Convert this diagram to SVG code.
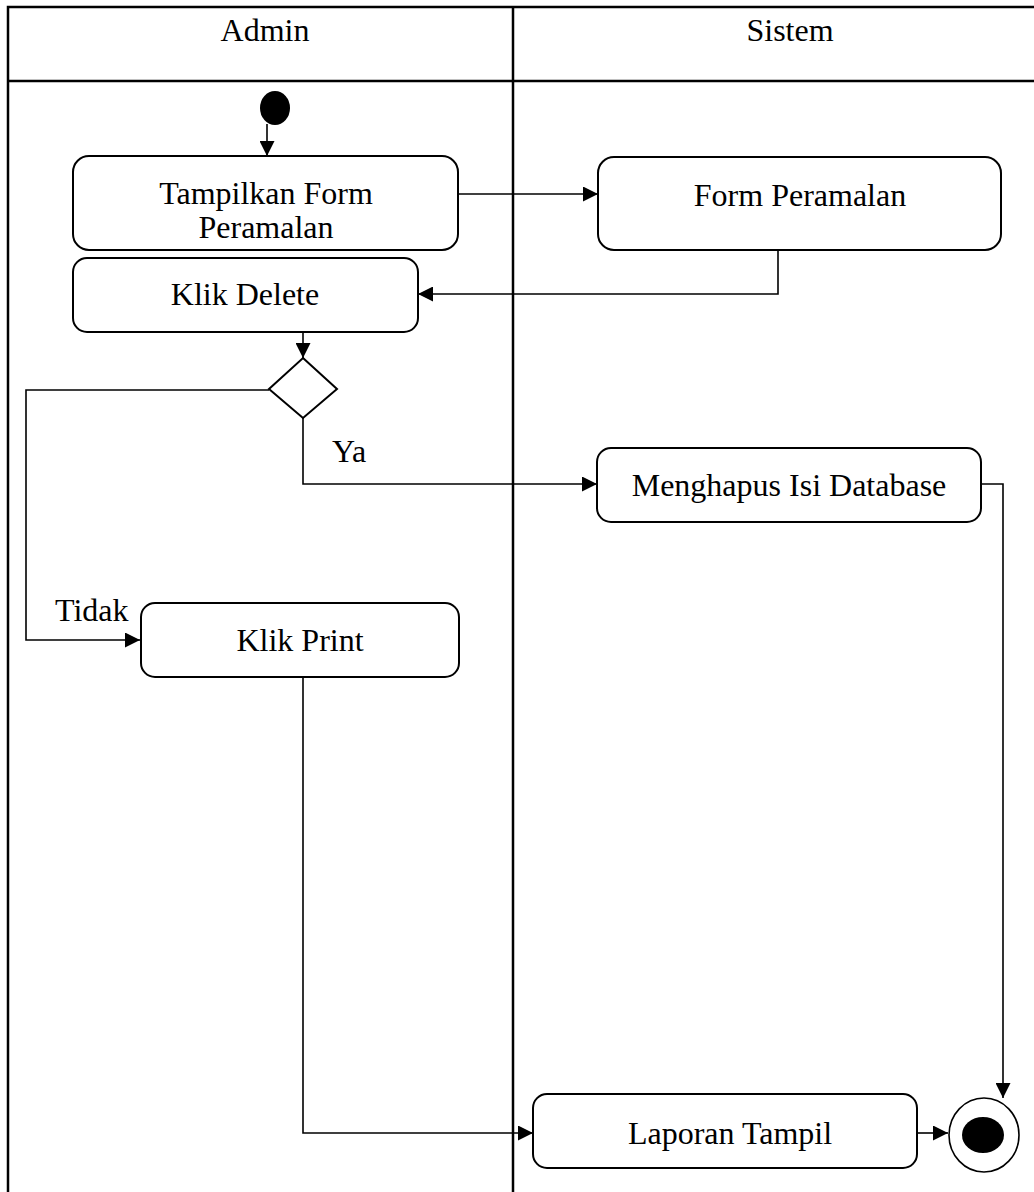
<svg xmlns="http://www.w3.org/2000/svg" width="1034" height="1192" viewBox="0 0 1034 1192">
<defs>
<style>
.lane{stroke:#000;stroke-width:2.5;fill:none}
.node{fill:#fff;stroke:#000;stroke-width:2}
.edge{fill:none;stroke:#000;stroke-width:1.6}
.t{font-family:"Liberation Serif","Times New Roman",serif;font-size:32px;fill:#000;text-anchor:middle}
.l{font-family:"Liberation Serif","Times New Roman",serif;font-size:32px;fill:#000}
</style>
<marker id="arr" viewBox="0 0 10 10" refX="10" refY="5" markerWidth="16" markerHeight="15" markerUnits="userSpaceOnUse" orient="auto">
<path d="M0,0 L10,5 L0,10 z" fill="#000"/>
</marker>
</defs>
<rect width="1034" height="1192" fill="#fff"/>
<g id="lanes">
<path class="lane" d="M1040,7 L8,7 L8,1200"/>
<line class="lane" x1="8" y1="81" x2="1040" y2="81"/>
<line class="lane" x1="513" y1="7" x2="513" y2="1200"/>
<text class="t" x="265" y="41">Admin</text>
<text class="t" x="790" y="41">Sistem</text>
</g>
<g id="connectors">
<line class="edge" x1="267" y1="124" x2="267" y2="156" marker-end="url(#arr)"/>
<line class="edge" x1="458" y1="194" x2="598" y2="194" marker-end="url(#arr)"/>
<polyline class="edge" points="778,250 778,294 418,294" marker-end="url(#arr)"/>
<line class="edge" x1="303" y1="332" x2="303" y2="358" marker-end="url(#arr)"/>
<polyline class="edge" points="269,390 26,390 26,640 140,640" marker-end="url(#arr)"/>
<polyline class="edge" points="303,418 303,484 597,484" marker-end="url(#arr)"/>
<polyline class="edge" points="981,484 1003,484 1003,1098" marker-end="url(#arr)"/>
<polyline class="edge" points="303,677 303,1133 533,1133" marker-end="url(#arr)"/>
<line class="edge" x1="917" y1="1133" x2="948" y2="1133" marker-end="url(#arr)"/>
<text class="l" x="332" y="462">Ya</text>
<text class="l" x="55" y="621">Tidak</text>
</g>
<g id="start">
<ellipse cx="275" cy="108" rx="15" ry="17" fill="#000"/>
</g>
<g id="tampilkan">
<rect class="node" x="73" y="156" width="385" height="94" rx="16"/>
<text class="t" x="266" y="204">Tampilkan Form</text>
<text class="t" x="266" y="238">Peramalan</text>
</g>
<g id="form">
<rect class="node" x="598" y="157" width="403" height="93" rx="16"/>
<text class="t" x="800" y="206">Form Peramalan</text>
</g>
<g id="delete">
<rect class="node" x="73" y="258" width="345" height="74" rx="14"/>
<text class="t" x="245" y="305">Klik Delete</text>
</g>
<g id="decision">
<polygon class="node" points="303,358 337,389 303,418 269,389"/>
</g>
<g id="hapus">
<rect class="node" x="597" y="448" width="384" height="74" rx="14"/>
<text class="t" x="789" y="496">Menghapus Isi Database</text>
</g>
<g id="print">
<rect class="node" x="141" y="603" width="318" height="74" rx="14"/>
<text class="t" x="300" y="651">Klik Print</text>
</g>
<g id="laporan">
<rect class="node" x="533" y="1094" width="384" height="74" rx="14"/>
<text class="t" x="730" y="1144">Laporan Tampil</text>
</g>
<g id="end">
<ellipse cx="984" cy="1135" rx="35" ry="37" fill="#fff" stroke="#000" stroke-width="1.6"/>
<ellipse cx="983" cy="1135" rx="21" ry="18" fill="#000"/>
</g>
</svg>
